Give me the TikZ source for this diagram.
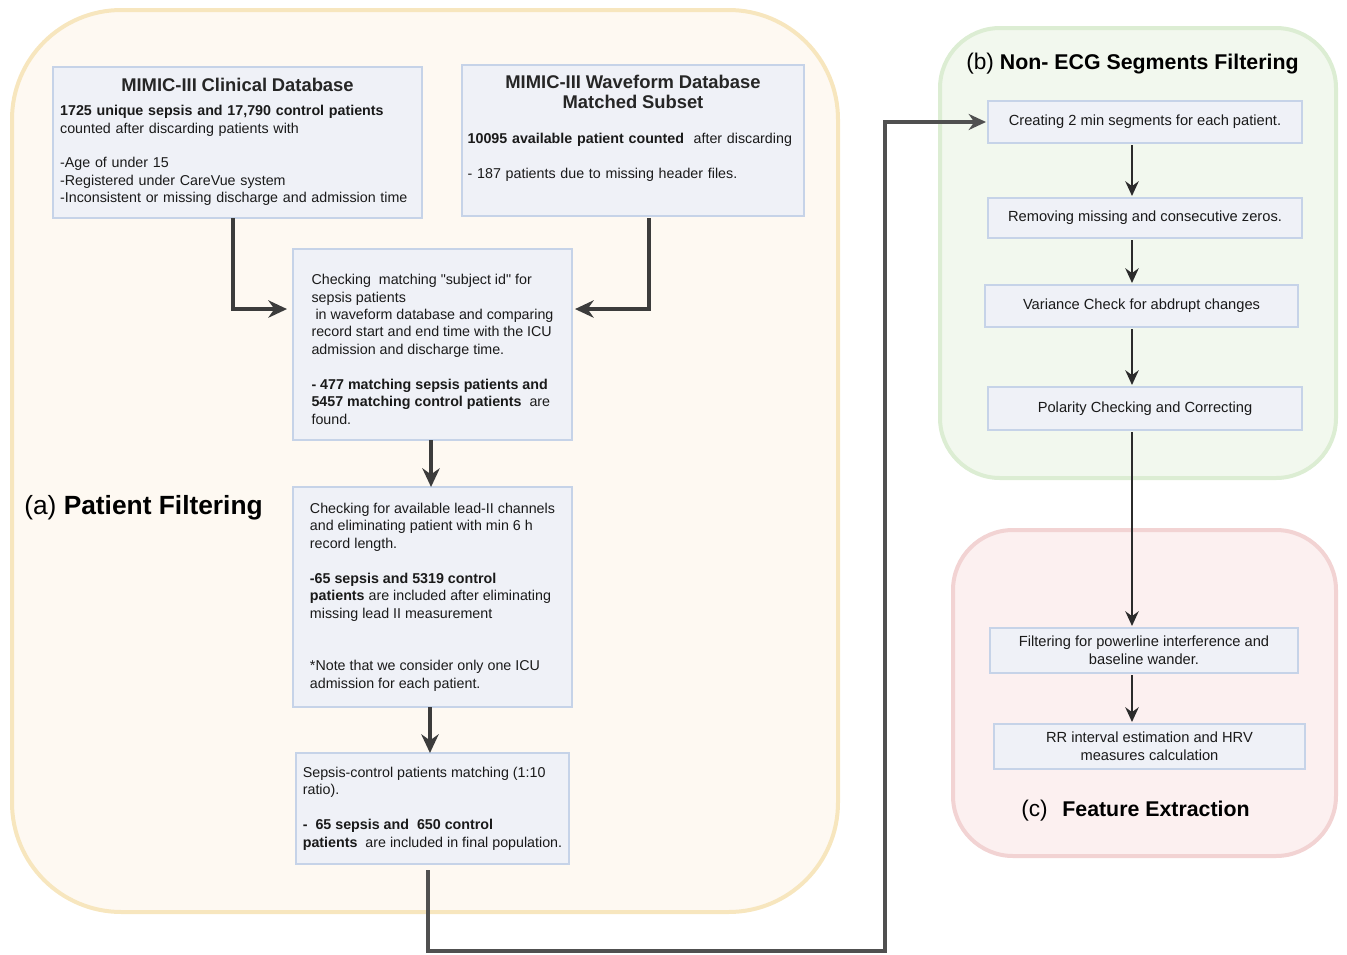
\documentclass[tikz,border=0pt]{standalone}
\usepackage{fontspec}
\setmainfont{Liberation Sans}
\usetikzlibrary{arrows.meta, positioning}

\definecolor{panelAfill}{HTML}{FEF9F2}
\definecolor{panelAline}{HTML}{F7E6BE}
\definecolor{panelBfill}{HTML}{F2F8EE}
\definecolor{panelBline}{HTML}{DCEDD3}
\definecolor{panelCfill}{HTML}{FCF0F0}
\definecolor{panelCline}{HTML}{F2D3D3}
\definecolor{boxfill}{HTML}{EFF1F7}
\definecolor{boxline}{HTML}{C6D3E8}
\definecolor{flowgray}{HTML}{3C3C3C}
\definecolor{flowdark}{HTML}{2B2B2B}
\definecolor{inktext}{HTML}{1A1A1A}

\newcommand{\bodysize}{\fontsize{10.7}{13.1}\selectfont}
\newcommand{\headsize}{\fontsize{13.8}{15}\selectfont}
% straight double quote, as a glyph (skips the TeX quote mapping)
\newcommand{\dq}{\XeTeXglyph\XeTeXglyphindex "quotedbl" \relax}

\begin{document}
\begin{tikzpicture}[x=0.75pt, y=-0.75pt]
    % Styles
    \tikzstyle{panel} = [line width=3pt]
    \tikzstyle{block} = [rectangle, draw=boxline, fill=boxfill, line width=1.5pt, outer sep=0pt, font=\bodysize, text=inktext]
    \tikzstyle{textblock} = [block, align=left, inner xsep=0pt]
    \tikzstyle{stepblock} = [block, align=center, minimum width=235.5pt]
    \tikzstyle{flow} = [draw=flowgray, line width=3pt, -{Stealth[length=14pt, width=13pt]}]
    \tikzstyle{longflow} = [draw=flowgray!90, line width=2.5pt, -{Stealth[length=13pt, width=12pt]}]
    \tikzstyle{thinflow} = [draw=flowdark, line width=2pt, -{Stealth[length=11pt, width=10pt]}, shorten <=1.5pt, shorten >=1.5pt]

    \useasboundingbox (0,0) rectangle (1347,954);

    % Background panels
    \draw[panel, draw=panelAline, fill=panelAfill, rounded corners=82pt] (12,10) rectangle (838,912);
    \draw[panel, draw=panelBline, fill=panelBfill, rounded corners=45pt] (940,28) rectangle (1336,478);
    \draw[panel, draw=panelCline, fill=panelCfill, rounded corners=45pt] (953,530) rectangle (1336,856);

    % Panel titles
    \node[anchor=west, inner sep=0pt, font=\fontsize{19.75}{22}\selectfont] (titleA) at (24,508) {(a) \textbf{Patient Filtering}};
    \node[anchor=west, inner sep=0pt, font=\fontsize{16}{18}\selectfont] (titleB) at (966,64) {{\fontsize{17}{18}\selectfont(b)} \textbf{Non- ECG Segments Filtering}};
    \node[anchor=west, inner sep=0pt, font=\fontsize{16}{18}\selectfont] (titleC) at (1021,811) {{\fontsize{17}{18}\selectfont(c)}\hspace{11pt}\textbf{Feature Extraction}};

    % (a) Patient filtering
    \node[textblock, text width=266pt, minimum width=276.75pt, minimum height=113.25pt] (clinical) at (237.5,142) {\makebox[\linewidth]{\headsize\bfseries\color{black!85}MIMIC-III Clinical Database}\\[5pt]
        \textbf{1725 unique sepsis and 17,790 control patients}\\
        counted after discarding patients with\\[13.1pt]
        -Age of under 15\\
        -Registered under CareVue system\\
        -Inconsistent or missing discharge and admission time};
    \node[textblock, text width=248pt, minimum width=256.5pt, minimum height=113.25pt] (wave) at (633,140.5) {\makebox[\linewidth]{\headsize\bfseries\color{black!85}MIMIC-III Waveform Database}\\[2pt]
        \makebox[\linewidth]{\headsize\bfseries\color{black!85}Matched Subset}\\[13.2pt]
        \textbf{10095 available patient counted}\ \ after discarding\\[13.1pt]
        - 187 patients due to missing header files.\\[8pt]\mbox{}};
    \node[textblock, minimum width=209.25pt, minimum height=143.25pt] (match) at (432.5,344.5) {\rule{0pt}{15pt}Checking\ \ matching \dq subject id\dq{} for\\
        sepsis patients\\
        \hspace*{3pt}in waveform database and comparing\\
        record start and end time with the ICU\\
        admission and discharge time.\\[13.1pt]
        \textbf{- 477 matching sepsis patients and}\\
        \textbf{5457 matching control patients}\ \ are\\
        found.};
    \node[textblock, minimum width=209.25pt, minimum height=165pt, below=35.25pt of match] (lead) {Checking for available lead-II channels\\
        and eliminating patient with min 6 h\\
        record length.\\[13.1pt]
        \textbf{-65 sepsis and 5319 control}\\
        \textbf{patients} are included after eliminating\\
        missing lead II measurement\\[26.2pt]
        *Note that we consider only one ICU\\
        admission for each patient.};
    \node[textblock, minimum width=204.75pt, minimum height=83.25pt, below=34.5pt of lead] (final) {Sepsis-control patients matching (1:10\\
        ratio).\\[13.1pt]
        \textbf{-\ \ 65 sepsis and\ \ 650 control}\\
        \textbf{patients}\ \ are included in final population.};

    % (b) Non-ECG segments filtering
    \node[stepblock, font=\fontsize{11}{13.4}\selectfont, minimum height=31.5pt] (seg1) at (1145,122) {Creating 2 min segments for each patient.};
    \node[stepblock, font=\fontsize{11}{13.4}\selectfont, minimum height=30pt, below=41.25pt of seg1] (seg2) {Removing missing and consecutive zeros.};
    \node[stepblock, font=\fontsize{11}{13.4}\selectfont, minimum height=31.5pt, minimum width=234.75pt, below=35.25pt of seg2, xshift=-2.6pt] (seg3) {Variance Check for abdrupt changes};
    \node[stepblock, font=\fontsize{11}{13.4}\selectfont, minimum height=32.25pt, below=45pt of seg3, xshift=2.6pt] (seg4) {Polarity Checking and Correcting};

    % (c) Feature extraction
    \node[stepblock, font=\fontsize{11}{13.4}\selectfont, minimum height=33.75pt, minimum width=231pt] (filt) at (1144,650.5) {Filtering for powerline interference and\\ baseline wander.};
    \node[stepblock, font=\fontsize{11}{13.4}\selectfont, minimum height=33.75pt, minimum width=233.25pt, below=38.25pt of filt, xshift=4.1pt] (rr) {RR interval estimation and HRV\\ measures calculation};

    % Connections
    \draw[flow] ([xshift=-3.4pt,yshift=-0.4pt]clinical.south) |- ([xshift=-4.5pt,yshift=26.6pt]match.west);
    \draw[flow] ([xshift=12pt,yshift=-1.5pt]wave.south) |- ([xshift=2.25pt,yshift=26.6pt]match.east);
    \draw[flow] ([xshift=-1.1pt]match.south) -- ([xshift=-1.1pt]lead.north);
    \draw[flow] ([xshift=-1.9pt]lead.south) -- ([xshift=-1.9pt]final.north);

    \coordinate (bend) at (885,951);
    \draw[longflow] ([xshift=-3.4pt,yshift=-4.5pt]final.south) |- (bend) |- ([xshift=-1.5pt]seg1.west);

    \coordinate (spine) at (1132,0);
    \draw[thinflow] (spine |- seg1.south) -- (spine |- seg2.north);
    \draw[thinflow] (spine |- seg2.south) -- (spine |- seg3.north);
    \draw[thinflow] (spine |- seg3.south) -- (spine |- seg4.north);
    \draw[thinflow, line width=1.6pt] (spine |- seg4.south) -- (spine |- filt.north);
    \draw[thinflow] (spine |- filt.south) -- (spine |- rr.north);
\end{tikzpicture}
\end{document}
